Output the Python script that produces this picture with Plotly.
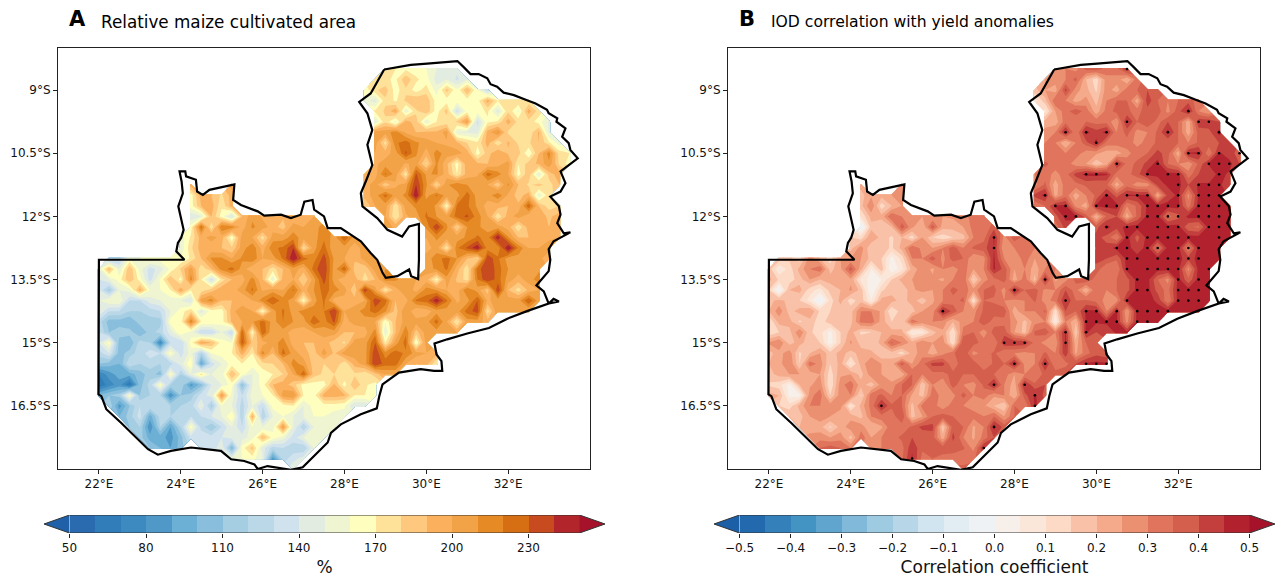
import numpy as np
import plotly.graph_objects as go

FONT = "DejaVu Sans"

boundary_lon = [28.97,29.25,29.62,30.02,30.43,30.76,30.92,31.08,31.28,31.49,31.57,31.73,31.89,32.14,32.46,32.67,32.95,32.99,33.20,33.18,33.40,33.32,33.48,33.52,33.70,33.48,33.28,33.40,33.28,33.03,33.24,33.28,33.20,33.36,33.52,33.11,32.99,33.03,32.99,32.69,32.87,32.99,33.24,33.11,32.99,32.46,31.98,31.53,31.00,30.51,30.20,30.25,30.37,30.39,30.19,29.86,29.33,28.93,28.85,28.79,28.40,27.91,27.67,27.59,27.26,26.98,26.69,26.37,26.12,25.88,25.80,25.55,25.23,24.98,24.58,24.25,23.76,23.44,23.20,22.95,22.54,22.18,22.06,21.99,22.0,24.09,23.89,23.93,24.01,24.07,24.01,23.94,24.05,24.02,23.97,24.11,24.13,24.37,24.40,24.54,24.70,25.31,25.28,25.47,25.88,26.04,26.45,26.69,26.93,27.02,27.22,27.26,27.50,27.59,27.91,28.11,28.40,28.64,28.80,28.93,29.01,29.29,29.58,29.63,29.80,29.82,29.82,29.58,29.41,29.05,28.80,28.44,28.40,28.52,28.68,28.56,28.68,28.56,28.36,28.64,28.97]
boundary_lat = [-8.51,-8.46,-8.40,-8.37,-8.34,-8.31,-8.46,-8.62,-8.62,-8.72,-8.86,-8.92,-9.06,-9.12,-9.24,-9.32,-9.47,-9.55,-9.67,-9.75,-9.91,-10.11,-10.26,-10.42,-10.62,-10.78,-10.93,-11.21,-11.41,-11.53,-11.76,-11.96,-12.16,-12.40,-12.38,-12.59,-12.78,-13.03,-13.30,-13.64,-13.78,-14.07,-14.02,-13.96,-14.07,-14.25,-14.43,-14.65,-14.78,-14.92,-15.02,-15.28,-15.44,-15.67,-15.67,-15.63,-15.71,-15.99,-16.27,-16.56,-16.70,-16.94,-17.14,-17.37,-17.69,-17.96,-18.02,-17.96,-17.93,-18.0,-17.89,-17.81,-17.77,-17.57,-17.53,-17.49,-17.57,-17.66,-17.53,-17.29,-16.90,-16.58,-16.27,-16.23,-13.03,-13.03,-12.83,-12.63,-12.51,-12.32,-12.08,-11.76,-11.45,-11.17,-10.93,-10.93,-11.05,-11.13,-11.41,-11.49,-11.37,-11.24,-11.61,-11.73,-11.88,-11.98,-11.96,-12.04,-11.96,-11.65,-11.61,-11.84,-12.0,-12.28,-12.28,-12.40,-12.59,-12.87,-13.03,-13.34,-13.46,-13.42,-13.26,-13.42,-13.49,-13.03,-12.18,-12.24,-12.48,-12.32,-12.04,-11.76,-11.45,-11.17,-10.78,-10.30,-9.95,-9.55,-9.28,-9.08,-8.51]

# (latitude, first longitude, values on a 0.25 degree grid) -- percent
A_ROWS = [
(-8.5,29.0,[175,170,168,165,160,150,142,142]),
(-8.75,28.75,[175,172,168,188,172,165,145,150,138,150]),
(-9.0,28.5,[165,178,185,165,178,165,175,155,185,162,192,160,130]),
(-9.25,28.5,[155,145,178,168,182,190,188,165,165,165,165,165,195,170,172,178,172]),
(-9.5,28.75,[172,182,198,152,178,188,165,185,135,165,165,172,145,178,158,195,175]),
(-9.75,28.75,[148,178,155,195,185,152,170,172,182,205,135,168,172,195,176,176,165,148]),
(-10.0,28.75,[205,205,215,198,190,192,192,205,150,148,145,195,212,178,172,172,192,148]),
(-10.25,28.75,[205,175,218,225,212,205,200,198,192,180,172,195,172,192,178,178,190,172,155]),
(-10.5,28.75,[200,195,205,232,212,195,215,205,205,195,165,185,200,188,185,160,190,215,175,170]),
(-10.75,28.75,[198,205,210,198,205,178,212,192,165,198,192,190,195,205,170,185,192,208,178,165]),
(-11.0,28.5,[190,195,222,205,172,232,208,212,195,170,195,198,225,215,200,165,188,148,185,195]),
(-11.25,24.25,[195]),(-11.25,25.25,[205]),
(-11.25,28.5,[195,205,182,198,205,240,212,178,208,218,210,208,200,182,212,190,178,185,175,190]),
(-11.5,24.25,[165,195,190,178,195]),
(-11.5,28.5,[195,205,225,205,212,250,205,222,205,205,225,205,205,218,198,185,195,150,178]),
(-11.75,24.25,[165,190,195,172,195]),
(-11.75,28.5,[180,200,205,172,205,212,218,208,165,222,222,208,195,195,190,192,228,190,175,180]),
(-12.0,24.25,[142,150,190,165,140,190,208,198,198,192,192,190,200]),
(-12.0,29.0,[200,170,198,205,222,210,205,225,232,215,200,172,195,205,192,195,188,195]),
(-12.25,24.25,[165,225,172,220,215,195,212,205,195,185,205,200,205,215]),
(-12.25,29.0,[205,198]),
(-12.25,30.0,[212,240,212,180,210,212,205,205,195,172,195,195,190,200]),
(-12.5,24.0,[155,172,195,205,195,162,205,200,175,205,205,215,205,205,218,205,228,205]),
(-12.5,30.0,[200,212,205,205,212,222,215,248,212,190,190,190,198,200]),
(-12.75,24.0,[152,178,195,192,190,182,205,218,195,218,222,240,175,205,225,200,205,195,205]),
(-12.75,30.0,[195,205,172,218,232,248,215,212,252,218,200,200,205]),
(-13.0,22.25,[120,125,160,160,165,165,165,160,172,190,212,212,200,212,218,200,205,222,250,225,215,235,208,200,192,205,208]),
(-13.0,30.0,[205,215,225,210,190,178,238,222,205,205,205,205,190]),
(-13.25,22.0,[150,190,150,190,155,135,145,162,182,205,172,190,215,225,205,192,190,175,190,205,195,225,240,205,228,185,182,205,210]),
(-13.25,30.0,[205,212,222,195,172,225,240,225,210,205,205,208]),
(-13.5,22.0,[140,150,165,190,165,135,162,190,165,215,170,135,175,190,195,215,190,150,195,200,180,205,235,205,190,195,175,190,215,212,205,200,195,165,205,188,175,220,240,225,205,195,205,215]),
(-13.75,22.0,[140,115,150,155,195,160,160,170,198,170,175,185,198,195,205,222,198,205,200,222,195,210,225,215,205,180,240,205,172,195,210,195,215,210,200,195,220,205,185,240,190,175,192,200]),
(-14.0,22.0,[150,160,160,130,130,145,150,155,150,140,205,215,190,190,190,200,215,230,215,205,165,205,222,195,195,195,200,238,225,190,195,222,225,248,222,198,205,230,198,205,205,205,230,205]),
(-14.25,22.0,[150,130,130,120,120,125,130,150,165,178,145,165,165,195,210,200,165,205,222,205,215,215,220,240,200,205,215,225,212,185,210,190,195,205,205,205,225,235,175,210,200,205,200]),
(-14.5,22.0,[125,105,105,100,115,115,115,165,165,218,170,170,165,192,200,208,225,205,220,210,205,228,215,232,195,205,205,200,160,190,205,205,205,225,200,170,205,205,195]),
(-14.75,22.0,[130,110,115,115,100,115,125,145,170,155,130,130,150,130,228,165,230,200,205,195,195,200,205,205,190,190,195,215,150,190,218,185,205,205,205,200]),
(-15.0,22.0,[140,165,105,100,125,120,75,130,130,165,200,190,165,160,232,185,195,205,215,195,190,190,195,185,178,205,205,230,170,205,225,160,205]),
(-15.25,22.0,[125,140,105,115,125,135,130,165,135,155,120,160,165,170,195,170,215,190,225,205,195,185,205,188,205,205,205,238,215,225,218,205,200,195]),
(-15.5,22.0,[110,105,100,130,120,125,120,125,145,170,90,135,150,165,170,165,175,180,190,215,205,185,180,190,172,195,205,240,225,225,200,190,195,170]),
(-15.75,22.0,[70,85,95,95,105,115,105,165,120,150,175,150,155,190,165,150,165,170,180,200,228,185,178,180,178,178,172,185,200,200]),
(-16.0,22.0,[60,75,85,60,105,125,165,120,120,85,105,140,150,165,105,150,165,190,195,185,165,165,165,192,165,190,172,165]),
(-16.25,22.0,[100,110,115,165,110,120,120,80,110,115,135,145,205,155,130,155,160,170,205,210,170,165,195,195,192,170,170,165]),
(-16.5,22.25,[120,85,110,130,130,130,120,120,125,150,115,160,150,125,150,130,165,165,170,150,165,165,165,162,140,140]),
(-16.75,22.5,[100,115,135,95,125,120,125,130,130,140,150,170,120,195,120,150,160,150,150,160,160,155,155]),
(-17.0,22.75,[110,120,80,120,90,120,165,125,110,130,150,130,160,150,155,205,150,120,150,155,160]),
(-17.25,23.0,[115,95,95,85,105,135,140,135,140,145,145,155,190,165,155,135,150,155,155]),
(-17.5,23.25,[110,100,90,105]),
(-17.5,24.5,[135,130,150,100,165,185,145,125,130,125,120,150]),
(-17.75,25.25,[150,160,165,150,85,125,135,145]),
(-18.0,26.75,[150]),
]

# same grid -- correlation coefficient times 100
B_ROWS = [
(-8.5,29.0,[25,30,28,37,38,33,33,45]),
(-8.75,28.75,[25,28,30,37,20,12,28,28,20,33]),
(-9.0,28.5,[18,25,22,42,27,22,14,28,22,33,35,40,38]),
(-9.25,28.5,[8,18,35,30,23,27,18,30,35,35,22,43,35,30,35,38,32]),
(-9.5,28.75,[8,25,33,38,33,22,32,37,36,33,38,38,28,38,47,30,25]),
(-9.75,28.75,[22,22,33,30,35,33,33,26,46,35,40,33,40,35,22,44,44,40]),
(-10.0,28.75,[27,30,47,30,47,42,47,30,37,28,30,36,47,35,22,37,38,47]),
(-10.25,28.75,[30,30,20,30,38,47,33,33,33,28,32,36,35,35,30,36,38,40,42]),
(-10.5,28.75,[32,33,30,33,27,26,22,22,28,33,35,42,37,22,46,46,30,46,42,38]),
(-10.75,28.75,[36,33,33,27,25,16,22,46,33,36,42,47,35,30,26,36,46,46,47,40]),
(-11.0,28.5,[30,33,28,33,42,47,47,46,32,33,38,47,46,47,47,32,40,40,47,44]),
(-11.25,24.25,[22]),(-11.25,25.25,[28]),
(-11.25,28.5,[28,36,22,33,33,36,35,36,22,33,27,27,42,46,47,40,46,46,46,42]),
(-11.5,24.25,[18,24,22,25,28]),
(-11.5,28.5,[42,47,23,33,22,30,36,47,38,46,46,46,22,42,46,28,46,47,47]),
(-11.75,24.25,[18,30,12,20,25]),
(-11.75,28.5,[30,35,46,46,28,22,46,47,47,30,36,46,46,47,47,32,47,47,47,45]),
(-12.0,24.25,[10,22,22,35,30,25,25,25,25,26,28,32,30]),
(-12.0,29.0,[38,47,47,38,20,36,40,22,36,47,47,33,38,47,47,47,47,46]),
(-12.25,24.25,[-5,18,15,20,38,26,20,38,22,22,25,32,30,38]),
(-12.25,29.0,[32,42]),
(-12.25,30.0,[38,47,42,47,47,46,46,47,47,36,34,47,47,45]),
(-12.5,24.0,[15,12,25,18,14,20,12,25,15,12,15,18,30,33,46,28,38,33]),
(-12.5,30.0,[42,38,30,47,38,47,47,47,47,47,47,47,47,45]),
(-12.75,24.0,[18,28,15,18,14,22,35,28,25,30,38,30,36,38,45,25,30,30,30]),
(-12.75,30.0,[40,42,47,47,42,47,32,47,47,30,47,47,47]),
(-13.0,22.25,[18,16,12,28,20,12,25,25,25,18,15,3,12,30,30,38,28,38,35,25,28,46,30,25,33,25,28]),
(-13.0,30.0,[42,40,36,47,47,47,47,47,47,42,47,47,47]),
(-13.25,22.0,[18,5,12,22,30,34,18,24,38,22,5,18,0,8,22,28,24,30,27,33,25,30,46,38,25,30,22,30,30]),
(-13.25,30.0,[38,30,30,47,47,47,47,47,47,28,47,47]),
(-13.5,22.0,[22,14,12,18,25,20,22,22,24,8,3,5,15,22,25,30,26,24,30,35,14,28,33,38,22,33,18,46,24,28,37,40,32,30,35,38,47,47,35,28,47,36,47,47]),
(-13.75,22.0,[15,-3,20,22,12,8,17,20,26,18,-1,14,18,15,24,27,25,30,37,33,27,35,37,27,47,35,38,28,30,40,32,20,35,30,35,38,47,47,38,33,47,47,47,45]),
(-14.0,22.0,[18,22,18,15,8,-5,12,22,12,18,5,22,22,18,22,17,24,30,33,36,10,35,34,30,28,30,36,27,33,45,35,36,33,28,28,46,47,47,44,30,47,47,47,47]),
(-14.25,22.0,[20,28,18,22,25,14,15,17,18,30,30,24,10,18,18,25,27,47,38,30,28,36,38,38,22,30,30,36,10,40,35,46,46,30,46,25,47,47,47,47,47,47,47]),
(-14.5,22.0,[10,22,22,14,18,12,18,20,18,32,33,23,15,15,33,28,30,28,20,28,30,40,32,33,28,18,28,30,5,30,20,46,46,46,46,28,47,47,46]),
(-14.75,22.0,[10,15,18,30,16,12,3,15,22,14,15,20,22,22,5,7,18,24,10,32,35,26,38,38,25,18,36,38,30,46,15,46,40,42,46,46]),
(-15.0,22.0,[26,30,18,22,17,15,2,15,26,18,15,22,36,30,22,30,25,28,10,40,37,33,30,44,44,44,33,28,26,46,22,35,35]),
(-15.25,22.0,[18,23,28,14,20,25,17,22,18,22,22,15,18,12,22,28,22,28,34,40,28,32,36,30,30,28,30,36,30,44,24,33,38,36]),
(-15.5,22.0,[20,23,30,15,33,28,15,22,8,22,30,25,22,38,25,33,42,42,30,40,38,30,36,35,47,28,30,46,30,33,40,46,47,46]),
(-15.75,22.0,[18,22,25,25,22,25,12,24,25,18,28,25,20,22,35,30,33,33,37,35,35,38,35,33,25,30,30,37,38,40]),
(-16.0,22.0,[14,12,3,20,24,28,10,28,33,22,17,27,27,35,35,16,30,25,38,30,28,36,47,30,22,46,36,40]),
(-16.25,22.0,[22,20,3,3,28,33,15,28,30,14,33,36,30,35,24,18,33,28,28,37,30,33,26,30,20,38,46,38]),
(-16.5,22.25,[15,12,22,30,30,28,28,8,22,32,46,36,35,18,32,33,26,33,30,28,26,20,15,35,30,46]),
(-16.75,22.5,[20,18,25,28,25,20,23,18,30,33,32,40,18,25,35,38,35,30,32,30,35,25,35]),
(-17.0,22.75,[20,22,22,14,22,28,28,20,24,34,32,36,42,42,16,38,35,24,30,47,38]),
(-17.25,23.0,[27,28,25,28,18,33,25,30,33,36,40,35,37,22,42,30,24,32,40]),
(-17.5,23.25,[35,38,35,30]),
(-17.5,24.5,[28,30,33,33,44,36,35,38,36,36,28,46]),
(-17.75,25.25,[34,46,33,35,33,34,30,34]),
(-18.0,26.75,[38]),
]

# significant grid points: latitude -> longitudes
stipple = {
-8.5:[30.75],-9.5:[32.25],-9.75:[30.75,32.5,32.75],
-10.0:[29.25,29.75,30.25,31.75,33.0],-10.25:[30.0],
-10.5:[32.25,32.5,33.0,33.5],-10.75:[30.5,31.5,32.75,33.0,33.25],
-11.0:[29.75,30.0,31.25,31.75,32.0,33.0],-11.25:[32.0,32.5,32.75,33.0],
-11.5:[28.75,30.25,30.75,31.0,31.25,32.0,32.5,32.75,33.0],
-11.75:[29.0,29.25,30.0,30.25,30.5,31.25,31.5,31.75,32.0,32.5,32.75,33.0],
-12.0:[29.25,29.5,31.25,31.5,31.75,32.0,32.5,32.75,33.0],
-12.25:[30.25,30.75,31.0,31.5,31.75,32.0,32.75,33.0],
-12.5:[27.5,30.75,31.25,31.5,31.75,32.0,32.25,33.0],
-12.75:[27.5,30.5,30.75,31.25,31.5,32.0,32.25,32.5],
-13.0:[30.75,31.0,31.5,31.75,32.0,32.25,32.5],
-13.25:[30.75,31.25,31.5,31.75,32.0,32.75],
-13.5:[28.75,31.0,32.0,32.5],-13.75:[28.0,31.0,31.25,32.0,32.25,32.5],
-14.0:[29.25,30.75,32.0,32.25,32.5],
-14.25:[26.25,29.75,30.0,30.5,31.0,31.25,31.5,31.75],
-14.5:[29.75,30.0,30.25,30.5,31.0,31.25],-14.75:[29.25,29.75],
-15.0:[27.75,28.0,28.25,29.25],-15.5:[28.0,28.75,29.75,30.0,30.25],
-16.0:[27.5,28.25],-16.25:[28.5],-16.5:[24.75,28.5],-17.0:[27.5],-17.5:[27.25],-17.75:[25.5],
}

a_colors = ["#1F60A8","#2A6BB0","#307DB9","#3D8AC0","#4F98C7","#6CB0D6","#89BEDC","#A5CEE3","#BBD8E8","#D0E2ED","#E2ECE0","#EEF5D0","#FEFFBF","#FEE29A","#FEC97E","#FBB05E","#F2A347","#E68A25","#D66F14","#C74B1E","#B2262B","#A5122A"]
b_colors = ["#1B5FA6","#2369AD","#3480BA","#4393C3","#5FA5CE","#80B9DA","#9ECBE2","#B7D7E8","#D1E5F0","#E1ECF3","#EEF2F5","#F7EFEA","#FBE6DA","#FDDAC6","#F9C2A8","#F5AB8B","#EB9070","#E0745C","#D45F4D","#C33F3D","#B2212E","#A5122A"]
a_levels = [50,250,10]
b_levels = [-0.5,0.5,0.05]
a_ticks = [50,80,110,140,170,200,230]
b_ticks = [-0.5,-0.4,-0.3,-0.2,-0.1,0.0,0.1,0.2,0.3,0.4,0.5]
b_ticktext = ["\u22120.5","\u22120.4","\u22120.3","\u22120.2","\u22120.1","0.0","0.1","0.2","0.3","0.4","0.5"]
lon_ticks = [22,24,26,28,30,32]
lat_ticks = [-9,-10.5,-12,-13.5,-15,-16.5]
lon_text = ["22°E","24°E","26°E","28°E","30°E","32°E"]
lat_text = ["9°S","10.5°S","12°S","13.5°S","15°S","16.5°S"]

W, H = 1277, 577
grid_lon = np.arange(21.75, 34.01, 0.25)
grid_lat = np.arange(-18.25, -8.24, 0.25)

def grid(rows, scale=1.0):
    z = np.full((len(grid_lat), len(grid_lon)), np.nan)
    for lat, lon0, vals in rows:
        j = int(round((lat - grid_lat[0]) / 0.25))
        i0 = int(round((lon0 - grid_lon[0]) / 0.25))
        for k, v in enumerate(vals):
            z[j, i0 + k] = v * scale
    return z

def stepped(colors):
    n = len(colors)
    out = []
    for i, c in enumerate(colors):
        out += [[i / n, c], [(i + 1) / n, c]]
    return out

fig = go.Figure()

def map_panel(n, z, colors, lev, x0, x1):
    xa, ya = f"x{n}", f"y{n}"
    st, en, sz = lev
    fig.add_trace(go.Contour(x=grid_lon, y=grid_lat, z=z, xaxis=xa, yaxis=ya, showscale=False,
        colorscale=stepped(colors), zmin=st - sz, zmax=en + sz, connectgaps=False, hoverinfo="skip",
        contours=dict(start=st, end=en, size=sz, coloring="fill", showlines=False), line=dict(width=0, smoothing=0)))
    fig.add_trace(go.Scatter(x=boundary_lon, y=boundary_lat, xaxis=xa, yaxis=ya, mode="lines",
        line=dict(color="black", width=2.2), hoverinfo="skip", showlegend=False))
    fig.update_layout({
        f"xaxis{n}": dict(domain=[x0 / W, x1 / W], range=[21, 34], tickvals=lon_ticks, ticktext=lon_text, ticks="outside",
            ticklen=4, tickwidth=1, tickcolor="#222", showgrid=False, zeroline=False, mirror=True, showline=True,
            linecolor="#222", linewidth=1, anchor=ya, tickfont=dict(family=FONT, size=12, color="#111")),
        f"yaxis{n}": dict(domain=[1 - 469 / H, 1 - 48 / H], range=[-18, -8], tickvals=lat_ticks, ticktext=lat_text, ticks="outside",
            ticklen=4, tickwidth=1, tickcolor="#222", showgrid=False, zeroline=False, mirror=True, showline=True,
            linecolor="#222", linewidth=1, anchor=xa, tickfont=dict(family=FONT, size=12, color="#111")),
    })

def colorbar(n, colors, lev, x0, x1, ticks, ticktext, title):
    xa, ya = f"x{n}", f"y{n}"
    st, en, sz = lev
    mids = [st + (i + 0.5) * sz for i in range(len(colors) - 2)]
    fig.add_trace(go.Bar(x=mids, y=[1] * len(mids), width=sz, xaxis=xa, yaxis=ya, marker=dict(color=colors[1:-1], line=dict(width=0)),
        hoverinfo="skip", showlegend=False))
    tip = sz
    fig.add_trace(go.Scatter(x=[st, st - tip, st, st], y=[0, 0.5, 1, 0], xaxis=xa, yaxis=ya, mode="lines", fill="toself",
        fillcolor=colors[0], line=dict(width=0), hoverinfo="skip", showlegend=False))
    fig.add_trace(go.Scatter(x=[en, en + tip, en, en], y=[0, 0.5, 1, 0], xaxis=xa, yaxis=ya, mode="lines", fill="toself",
        fillcolor=colors[-1], line=dict(width=0), hoverinfo="skip", showlegend=False))
    fig.add_trace(go.Scatter(x=[st, st - tip, st, en, en + tip, en, st], y=[0, 0.5, 1, 1, 0.5, 0, 0], xaxis=xa, yaxis=ya, mode="lines",
        line=dict(color="#333", width=1), hoverinfo="skip", showlegend=False))
    fig.update_layout({
        f"xaxis{n}": dict(domain=[x0 / W, x1 / W], range=[st - tip, en + tip], tickvals=ticks, ticktext=ticktext, ticks="outside",
            ticklen=4, tickwidth=1, tickcolor="#222", showgrid=False, zeroline=False, showline=False, anchor=ya,
            tickfont=dict(family=FONT, size=12, color="#111"),
            title=dict(text=title, font=dict(family=FONT, size=17, color="#111"), standoff=6)),
        f"yaxis{n}": dict(domain=[1 - 533 / H, 1 - 515 / H], range=[0, 1], visible=False, anchor=xa),
    })

map_panel("", grid(A_ROWS), a_colors, a_levels, 58, 590)
map_panel(2, grid(B_ROWS, 0.01), b_colors, b_levels, 728, 1260)

# stippling over panel B
st_lon = [x for lat, xs in stipple.items() for x in xs]
st_lat = [lat for lat, xs in stipple.items() for x in xs]
fig.add_trace(go.Scatter(x=st_lon, y=st_lat, xaxis="x2", yaxis="y2", mode="markers",
    marker=dict(color="black", size=2.6), hoverinfo="skip", showlegend=False))

colorbar(3, a_colors, a_levels, 44, 605, a_ticks, [str(t) for t in a_ticks], "%")
colorbar(4, b_colors, b_levels, 714, 1275, b_ticks, b_ticktext, "Correlation coefficient")

def label(x, y, text, size, bold=False):
    fig.add_annotation(x=x / W, y=1 - y / H, xref="paper", yref="paper", xanchor="left", yanchor="middle", showarrow=False,
        text=f"<b>{text}</b>" if bold else text, font=dict(family=FONT, size=size, color="black"))

label(67, 19, "A", 21, True)
label(99, 22, "Relative maize cultivated area", 16.8)
label(737, 19, "B", 21, True)
label(769, 22, "IOD correlation with yield anomalies", 15.6)

fig.update_layout(width=W, height=H, margin=dict(l=0, r=0, t=0, b=0), paper_bgcolor="white", plot_bgcolor="white",
    showlegend=False, bargap=0, barmode="overlay", font=dict(family=FONT))
fig.write_html("out.html", config=dict(displayModeBar=False), post_script="document.body.style.margin='0';")
